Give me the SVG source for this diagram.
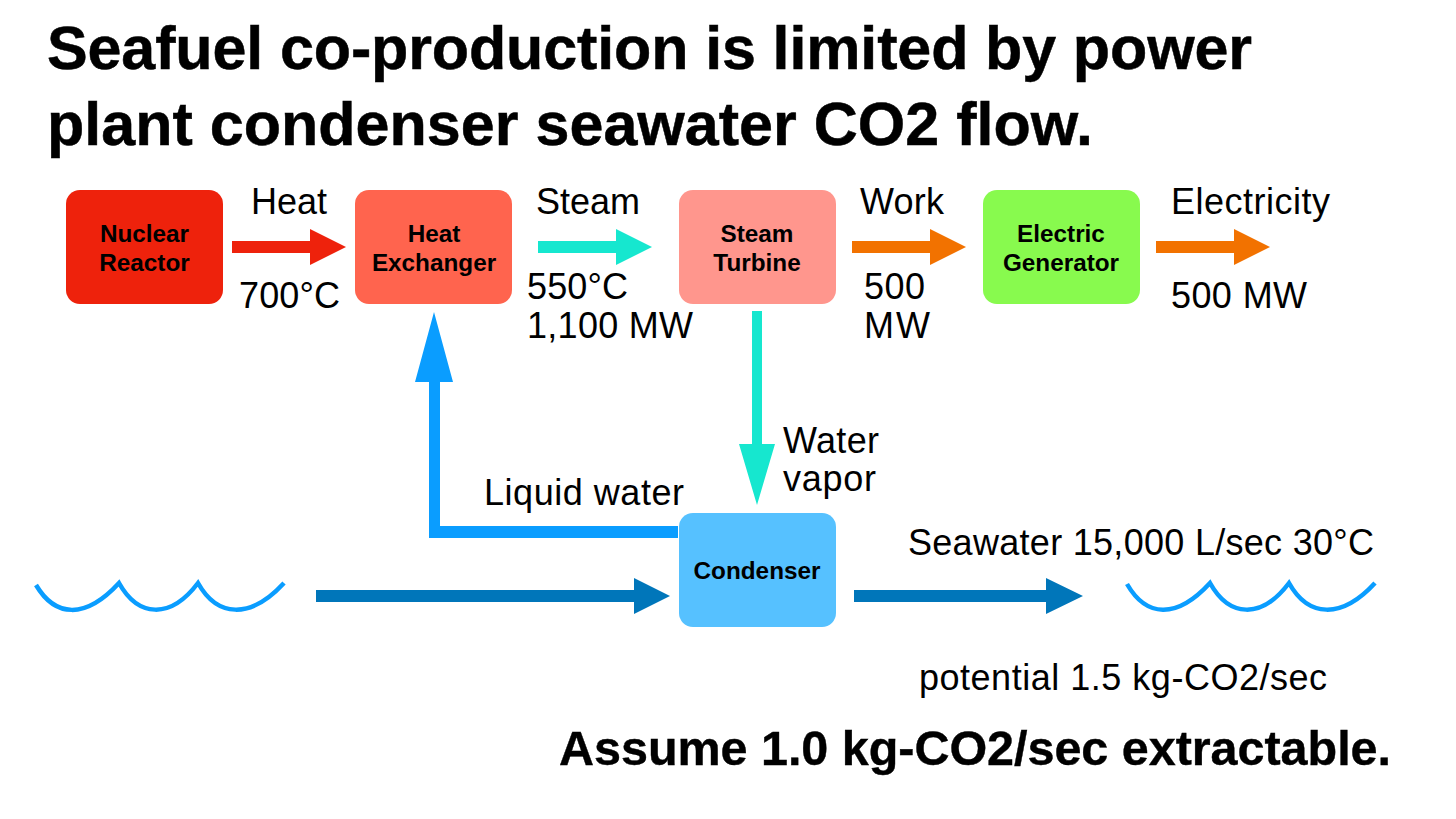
<svg xmlns="http://www.w3.org/2000/svg" width="1456" height="819" viewBox="0 0 1456 819">
<style>
text{font-family:"Liberation Sans",Arial,sans-serif;fill:#000}
.t{font-size:61px;font-weight:700;stroke:#000;stroke-width:.5}
.b{font-size:48.500px;font-weight:700;stroke:#000;stroke-width:.4}
.l{font-size:36px}
.n{font-size:24.300px;font-weight:700;text-anchor:middle}
.w{fill:none;stroke:#0a9dff;stroke-width:4.500}
</style>
<rect width="1456" height="819" fill="#fff"/>
<g id="title"><text class="t" x="47" y="69" textLength="1205" lengthAdjust="spacing">Seafuel co-production is limited by power</text><text class="t" x="47" y="145" textLength="1046" lengthAdjust="spacing">plant condenser seawater CO2 flow.</text></g>
<g id="connectors">
<path fill="#ee220c" d="M232 241H310V229L346 247L310 265V253H232Z"/>
<path fill="#16e7cf" d="M538 241H616V229L652 247L616 265V253H538Z"/>
<path fill="#f27200" d="M852 241H930V229L966 247L930 265V253H852Z"/>
<path fill="#f27200" d="M1156 241H1234V229L1270 247L1234 265V253H1156Z"/>
<path fill="#16e7cf" d="M752 311H762V444H775L757 505L739 444H752Z"/>
<path fill="#0a9dff" d="M678 526V538H429V382H415L434 312L453 382H440V526Z"/>
<path fill="#0076ba" d="M316 590H634V578L670 596L634 614V602H316Z"/>
<path fill="#0076ba" d="M854 590H1046V578L1083 596L1046 614V602H854Z"/>
</g>
<g id="nuclear-reactor"><rect x="66" y="190" width="157" height="114" rx="14" fill="#ee220c"/><text class="n" x="144.500" y="242">Nuclear</text><text class="n" x="144.500" y="271">Reactor</text></g>
<g id="heat-exchanger"><rect x="355" y="190" width="157" height="114" rx="14" fill="#ff644e"/><text class="n" x="434" y="242">Heat</text><text class="n" x="434" y="271">Exchanger</text></g>
<g id="steam-turbine"><rect x="679" y="190" width="157" height="114" rx="14" fill="#ff968d"/><text class="n" x="757" y="242">Steam</text><text class="n" x="757" y="271">Turbine</text></g>
<g id="electric-generator"><rect x="983" y="190" width="157" height="114" rx="14" fill="#88fa4e"/><text class="n" x="1061" y="242">Electric</text><text class="n" x="1061" y="271">Generator</text></g>
<g id="condenser"><rect x="679" y="513" width="157" height="114" rx="14" fill="#56c1ff"/><text class="n" x="757" y="579">Condenser</text></g>
<g id="waves">
<path class="w" d="M36 585C55 617 85 620 119 583C138 617 170 620 198 583C217 617 250 620 284 583"/>
<path class="w" d="M1127 584C1146 617 1176 620 1210 583C1229 617 1261 620 1289 583C1308 617 1341 620 1375 583"/>
</g>
<g id="labels">
<text class="l" x="251" y="214" textLength="76">Heat</text>
<text class="l" x="239" y="308" textLength="101">700°C</text>
<text class="l" x="536" y="214" textLength="104">Steam</text>
<text class="l" x="527" y="299" textLength="101">550°C</text>
<text class="l" x="527" y="338" textLength="166">1,100 MW</text>
<text class="l" x="860" y="214" textLength="84">Work</text>
<text class="l" x="864" y="299" textLength="61">500</text>
<text class="l" x="864" y="338" textLength="66">MW</text>
<text class="l" x="1171" y="214" textLength="159">Electricity</text>
<text class="l" x="1171" y="308" textLength="136">500 MW</text>
<text class="l" x="783" y="453" textLength="96">Water</text>
<text class="l" x="783" y="491" textLength="93">vapor</text>
<text class="l" x="484" y="505" textLength="200">Liquid water</text>
<text class="l" x="908" y="555" textLength="466">Seawater 15,000 L/sec 30°C</text>
<text class="l" x="919" y="690" textLength="408">potential 1.5 kg-CO2/sec</text>
<text class="b" x="559" y="765" textLength="832">Assume 1.0 kg-CO2/sec extractable.</text>
</g>
</svg>
